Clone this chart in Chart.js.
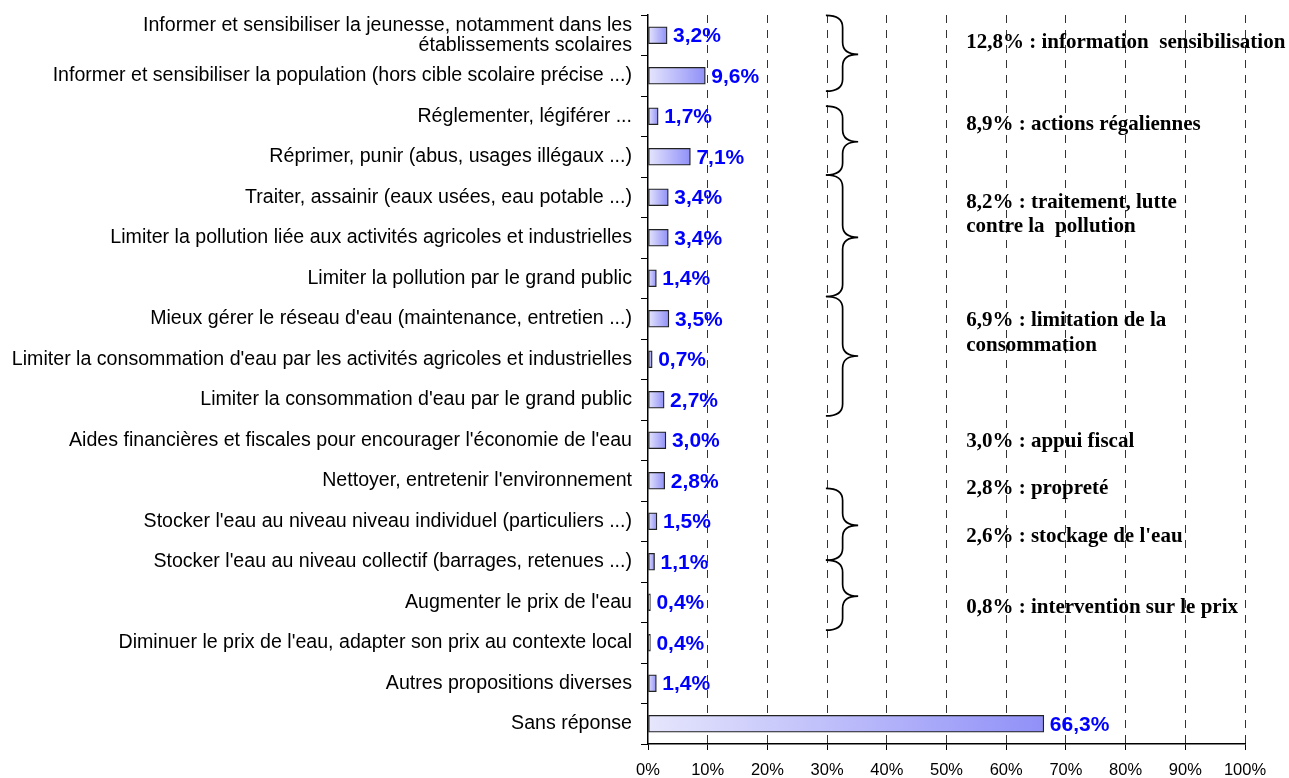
<!DOCTYPE html>
<html>
<head>
<meta charset="utf-8">
<script src="https://cdn.jsdelivr.net/npm/chart.js@4"></script>
<style>
  html, body { margin: 0; padding: 0; background: #fff; }
  #wrap { width: 1289px; height: 778px; }
</style>
</head>
<body>
<div id="wrap"><canvas id="chart" width="1289" height="778"></canvas></div>
<script>
// categories, top to bottom
const categories = [
  ['Informer et sensibiliser la jeunesse, notamment dans les', 'établissements scolaires'],
  'Informer et sensibiliser la population (hors cible scolaire précise ...)',
  'Réglementer, légiférer ...',
  'Réprimer, punir (abus, usages illégaux ...)',
  'Traiter, assainir (eaux usées, eau potable ...)',
  'Limiter la pollution liée aux activités agricoles et industrielles',
  'Limiter la pollution par le grand public',
  "Mieux gérer le réseau d'eau (maintenance, entretien ...)",
  "Limiter la consommation d'eau par les activités agricoles et industrielles",
  "Limiter la consommation d'eau par le grand public",
  "Aides financières et fiscales pour encourager l'économie de l'eau",
  "Nettoyer, entretenir l'environnement",
  "Stocker l'eau au niveau niveau individuel (particuliers ...)",
  "Stocker l'eau au niveau collectif (barrages, retenues ...)",
  "Augmenter le prix de l'eau",
  "Diminuer le prix de l'eau, adapter son prix au contexte local",
  'Autres propositions diverses',
  'Sans réponse'
];
const values = [3.2, 9.6, 1.7, 7.1, 3.4, 3.4, 1.4, 3.5, 0.7, 2.7, 3.0, 2.8, 1.5, 1.1, 0.4, 0.4, 1.4, 66.3];
const xTicks = [0, 10, 20, 30, 40, 50, 60, 70, 80, 90, 100];

// group texts on the right
const groupLabels = [
  '12,8% : information  sensibilisation',
  '8,9% : actions régaliennes',
  '8,2% : traitement, lutte',
  'contre la  pollution',
  '6,9% : limitation de la',
  'consommation',
  '3,0% : appui fiscal',
  '2,8% : propreté',
  "2,6% : stockage de l'eau",
  '0,8% : intervention sur le prix'
];

// annotation placement (category index units for y, % units for x)
const groupLabelRows = [0.32, 2.34, 4.26, 4.87, 7.18, 7.80, 10.16, 11.32, 12.50, 14.27];
const groupLabelX = 53.3;
const braces = [ // [top, bottom, tip]
  [-0.49, 1.38, 0.47],
  [1.75, 3.45, 2.63],
  [3.45, 6.45, 4.99],
  [6.45, 9.40, 7.92],
  [11.19, 12.96, 12.1],
  [12.96, 14.69, 13.85]
];
const braceX = [29.8, 32.6, 35.2]; // hook, spine, tip

function fmt(v) {
  return v.toFixed(1).replace('.', ',') + '%';
}

const annotations = {
  id: 'annotations',
  afterDatasetsDraw(chart) {
    const ctx = chart.ctx;
    const x = chart.scales.x, y = chart.scales.y;
    ctx.save();

    // value labels
    const meta = chart.getDatasetMeta(0);
    ctx.font = 'bold 21px "Liberation Sans", Arial, sans-serif';
    ctx.fillStyle = '#0000ff';
    ctx.textAlign = 'left';
    ctx.textBaseline = 'middle';
    meta.data.forEach((bar, i) => {
      ctx.fillText(fmt(values[i]), bar.x + 6, bar.y + 1);
    });

    // braces
    ctx.strokeStyle = '#000';
    ctx.lineWidth = 1.7;
    const xl = x.getPixelForValue(braceX[0]);
    const xs = x.getPixelForValue(braceX[1]);
    const xt = x.getPixelForValue(braceX[2]);
    const r = 12;
    braces.forEach(b => {
      const y0 = y.getPixelForValue(b[0]);
      const y1 = y.getPixelForValue(b[1]);
      const yt = y.getPixelForValue(b[2]);
      ctx.beginPath();
      ctx.moveTo(xl, y0);
      ctx.quadraticCurveTo(xs, y0, xs, y0 + r);
      ctx.lineTo(xs, yt - r);
      ctx.quadraticCurveTo(xs, yt, xt, yt);
      ctx.quadraticCurveTo(xs, yt, xs, yt + r);
      ctx.lineTo(xs, y1 - r);
      ctx.quadraticCurveTo(xs, y1, xl, y1);
      ctx.stroke();
    });

    // group labels
    ctx.font = 'bold 21px "Liberation Serif", "Times New Roman", serif';
    ctx.fillStyle = '#000';
    ctx.textBaseline = 'alphabetic';
    const gx = x.getPixelForValue(groupLabelX);
    groupLabels.forEach((t, i) => {
      ctx.fillText(t, gx, y.getPixelForValue(groupLabelRows[i]));
    });
    ctx.restore();
  }
};

const ctx = document.getElementById('chart');
new Chart(ctx, {
  type: 'bar',
  data: {
    labels: categories,
    datasets: [{
      data: values,
      backgroundColor: (c) => {
        const chart = c.chart;
        if (!chart.chartArea || c.type !== 'data') return '#b8b8fd';
        const xs = chart.scales.x;
        const g = chart.ctx.createLinearGradient(xs.getPixelForValue(0), 0, xs.getPixelForValue(c.raw), 0);
        g.addColorStop(0, '#e6e6fd');
        g.addColorStop(1, '#9090f8');
        return g;
      },
      borderColor: '#222',
      borderWidth: 1.3,
      borderSkipped: false,
      barThickness: 17
    }]
  },
  options: {
    indexAxis: 'y',
    responsive: false,
    animation: false,
    layout: { padding: { top: 15, right: 44, left: 0, bottom: 0 } },
    plugins: {
      legend: { display: false },
      tooltip: { enabled: false }
    },
    scales: {
      x: {
        min: 0,
        max: 100,
        afterBuildTicks: (s) => { s.ticks = xTicks.map(v => ({ value: v })); },
        afterFit: (s) => { s.height = 34; },
        border: { display: true, color: '#000', width: 1.5, dash: [8, 7] },
        grid: {
          color: (c) => c.tick && c.tick.value === 0 ? 'rgba(0,0,0,0)' : '#333',
          lineWidth: 1,
          tickColor: '#000',
          tickLength: 6,
          tickBorderDash: []
        },
        ticks: {
          padding: 11,
          color: '#000',
          font: { family: '"Liberation Sans", Arial, sans-serif', size: 16.5 },
          callback: (v) => v + '%'
        }
      },
      y: {
        afterFit: (s) => {
          s.width = 648;
          s.paddingTop = 0;
          s.paddingBottom = 0;
        },
        border: { display: true, color: '#000', width: 1.5 },
        grid: {
          display: true,
          drawOnChartArea: false,
          offset: true,
          color: '#000',
          tickLength: 7
        },
        ticks: {
          padding: 9,
          color: '#000',
          autoSkip: false,
          font: { family: '"Liberation Sans", Arial, sans-serif', size: 19.6, lineHeight: 1.03 }
        }
      }
    }
  },
  plugins: [annotations]
});
</script>
</body>
</html>
